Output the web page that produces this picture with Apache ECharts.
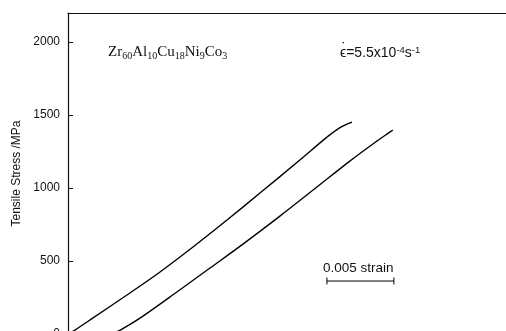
<!DOCTYPE html>
<html>
<head>
<meta charset="utf-8">
<script src="https://cdn.jsdelivr.net/npm/echarts@6/dist/echarts.min.js"></script>
<style>
html,body{margin:0;padding:0;background:#fff;}
#chart{width:506px;height:331px;}
</style>
</head>
<body>
<div id="chart"></div>
<script>
// Curve 1 (left): strain, stress (MPa)
const curve1Strain = [0, 0.00052, 0.00187, 0.0044, 0.00687, 0.00933, 0.01187, 0.01433, 0.01731, 0.01933, 0.0203, 0.02082, 0.0212];
const curve1Stress = [0, 27, 110, 267, 425, 596, 781, 966, 1192, 1349, 1414, 1438, 1452];
// Curve 2 (right)
const curve2Strain = [0.00328, 0.00403, 0.0056, 0.00813, 0.0106, 0.01306, 0.01582, 0.01858, 0.02104, 0.02306, 0.02381, 0.02425];
const curve2Stress = [0, 34, 123, 288, 452, 616, 808, 1007, 1185, 1322, 1370, 1397];
// Scale bar: 0.005 strain
const scaleBarStrain = [0.01933, 0.02433];
const scaleBarStress = [363, 363];
const yTicks = [0, 500, 1000, 1500, 2000];

const zip = (a, b) => a.map((v, i) => [v, b[i]]);

const chart = echarts.init(document.getElementById('chart'), null, {renderer: 'canvas'});
chart.setOption({
  animation: false,
  backgroundColor: '#fff',
  grid: {left: 68, top: 13, width: 438, height: 321, containLabel: false, outerBoundsMode: 'none'},
  xAxis: [
    {type: 'value', min: 0, max: 0.0327, position: 'bottom',
     axisLine: {show: true, lineStyle: {color: '#000', width: 1}},
     axisTick: {show: false}, axisLabel: {show: false}, splitLine: {show: false}},
    {type: 'value', min: 0, max: 0.0327, position: 'top',
     axisLine: {show: true, lineStyle: {color: '#111', width: 1.2}},
     axisTick: {show: false}, axisLabel: {show: false}, splitLine: {show: false}}
  ],
  yAxis: {
    type: 'value', min: 0, max: 2200, interval: 500,
    name: 'Tensile Stress /MPa', nameLocation: 'middle', nameGap: 45,
    nameTextStyle: {fontFamily: 'Liberation Sans', fontSize: 12, color: '#111'},
    axisLine: {show: true, lineStyle: {color: '#111', width: 1.2}},
    axisTick: {show: true, inside: true, length: 5, lineStyle: {color: '#111'},
      customValues: yTicks},
    axisLabel: {margin: 8, fontFamily: 'Liberation Sans', fontSize: 12, color: '#111',
      customValues: yTicks,
      formatter: v => (yTicks.indexOf(v) >= 0 ? String(v) : '')},
    splitLine: {show: false}
  },
  series: [
    {type: 'line', data: zip(curve1Strain, curve1Stress), smooth: 0.3, showSymbol: false,
     lineStyle: {color: '#000', width: 1.4}},
    {type: 'line', data: zip(curve2Strain, curve2Stress), smooth: 0.3, showSymbol: false,
     lineStyle: {color: '#000', width: 1.4}},
    {type: 'line', data: zip(scaleBarStrain, scaleBarStress), symbol: 'rect', symbolSize: [1, 7],
     showSymbol: true, itemStyle: {color: '#000'},
     lineStyle: {color: '#000', width: 1}}
  ],
  graphic: [
    {type: 'text', left: 108, top: 45, style: {
      text: 'Zr{s|60}Al{s|10}Cu{s|18}Ni{s|9}Co{s|3}',
      fontFamily: 'Liberation Serif', fontSize: 15, fill: '#111',
      rich: {s: {fontFamily: 'Liberation Serif', fontSize: 10, fill: '#111', verticalAlign: 'bottom', padding: [7, 0, 0, 0]}}
    }},
    {type: 'text', left: 340, top: 45, style: {
      text: '\u03F5=5.5x10{u|-4}s{u|-1}',
      fontFamily: 'Liberation Sans', fontSize: 14, fill: '#111',
      rich: {u: {fontFamily: 'Liberation Sans', fontSize: 9.5, fill: '#111', verticalAlign: 'top', padding: [0, 0, 6, 0]}}
    }},
    {type: 'text', left: 341.5, top: 41, style: {
      text: '\u02D9', fontFamily: 'Liberation Sans', fontSize: 15, fill: '#111'
    }},
    {type: 'text', left: 323, top: 261, style: {
      text: '0.005 strain', fontFamily: 'Liberation Sans', fontSize: 13.5, fill: '#111'
    }}
  ]
});
</script>
</body>
</html>
